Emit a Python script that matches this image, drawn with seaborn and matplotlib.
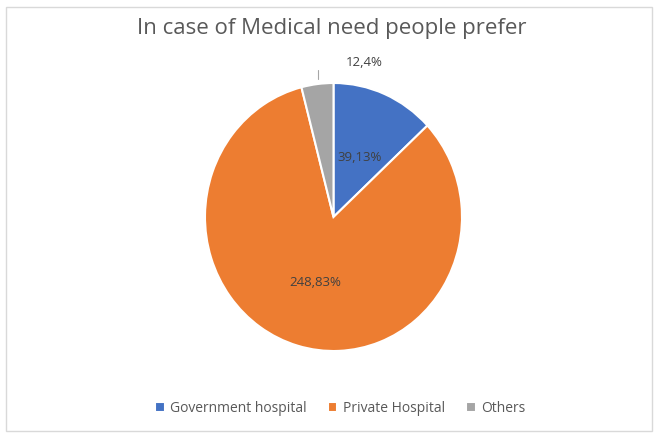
import matplotlib
matplotlib.use("Agg")
import matplotlib.pyplot as plt
import seaborn as sns
from matplotlib.patches import Rectangle

# Data
categories = ["Government hospital", "Private Hospital", "Others"]
counts = [39, 248, 12]
percents = [13, 83, 4]

sns.set_theme(style="white")
plt.rcParams['font.family'] = ['Open Sans', 'DejaVu Sans']
colors = sns.color_palette(["#4472C4", "#ED7D31", "#A5A5A5"])

fig = plt.figure(figsize=(6.54, 4.35), dpi=100)
fig.patch.set_facecolor("white")

# chart border
fig.add_artist(Rectangle((6 / 654, 3 / 435), 646 / 654, 424 / 435,
                         transform=fig.transFigure, fill=False,
                         edgecolor="#D9D9D9", linewidth=1))

ax = fig.add_axes([205 / 654, 83 / 435, 257 / 654, 268 / 435])
wedges, _ = ax.pie(counts, colors=colors, startangle=90, counterclock=False,
                   wedgeprops=dict(edgecolor="white", linewidth=1.5))
ax.set_aspect("auto")
ax.set_xlim(-1, 1)
ax.set_ylim(-1, 1)

labels = [f"{c},{p}%" for c, p in zip(counts, percents)]
label_pos = [(0.2, 0.45), (-0.14, -0.485), (0.24, 1.16)]
for lab, (x, y) in zip(labels, label_pos):
    ax.text(x, y, lab, ha="center", va="center", fontsize=9.5,
            color="#404040", clip_on=False)
# leader line for the small slice
ax.plot([-0.117, -0.117], [1.03, 1.10], color="#A6A6A6", lw=0.8, clip_on=False)

fig.text(0.508, 0.935, "In case of Medical need people prefer", ha="center",
         va="center", fontsize=16, color="#595959")

ax.legend(wedges, categories, loc="center", bbox_to_anchor=(0.52, 26 / 435),
          bbox_transform=fig.transFigure, ncol=3, frameon=False, fontsize=10,
          handlelength=0.7, handleheight=0.7, handletextpad=0.4,
          columnspacing=1.5, labelcolor="#595959")

fig.savefig("out.png", dpi=100)
